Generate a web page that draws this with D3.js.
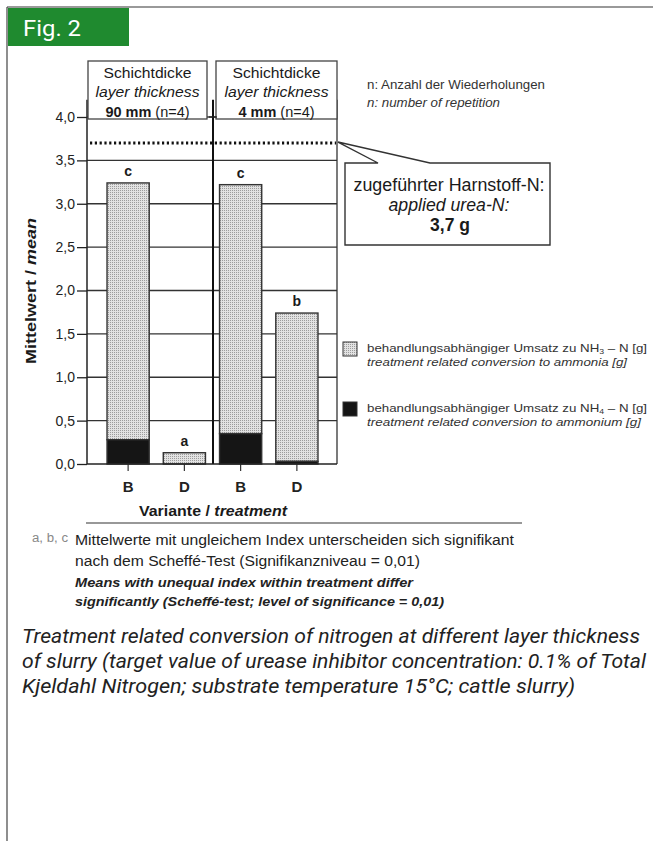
<!DOCTYPE html>
<html><head><meta charset="utf-8">
<script src="https://cdn.jsdelivr.net/npm/d3@7"></script>
<style>
html,body{margin:0;padding:0;background:#fff;}
svg{display:block;}
text{font-family:"Liberation Sans",Arial,sans-serif;fill:#1a1a1a;}
</style></head>
<body>
<svg id="c" width="653" height="841"></svg>
<script>
// ---- data ----
const categories = ["B", "D", "B", "D"];
const groupLabels = ["90 mm", "4 mm"];
const groupN = [4, 4];
const ammonium = [0.28, 0.0, 0.35, 0.03];          // NH4-N [g]
const ammonia = [2.96, 0.13, 2.87, 1.71];          // NH3-N [g] (stacked on top)
const sigLetters = ["c", "a", "c", "b"];
const appliedUreaN = 3.7;
const yTicks = [0, 0.5, 1.0, 1.5, 2.0, 2.5, 3.0, 3.5, 4.0];

const svg = d3.select("#c");
const fmt = v => d3.format(".1f")(v).replace(".", ",");

// pattern for stipple grey
const defs = svg.append("defs");
const pat = defs.append("pattern").attr("id", "stip").attr("width", 2).attr("height", 2)
  .attr("patternUnits", "userSpaceOnUse");
pat.append("rect").attr("width", 2).attr("height", 2).attr("fill", "#e2e2e2");
pat.append("rect").attr("width", 1).attr("height", 1).attr("fill", "#9c9c9c");

// frame
svg.append("line").attr("x1", 7).attr("x2", 653).attr("y1", 7).attr("y2", 7).attr("stroke", "#777").attr("stroke-width", 1.5);
svg.append("line").attr("x1", 7).attr("x2", 7).attr("y1", 7).attr("y2", 841).attr("stroke", "#444").attr("stroke-width", 1.2);
svg.append("rect").attr("x", 8).attr("y", 8).attr("width", 121).attr("height", 38).attr("fill", "#1f8a2f");
svg.append("text").attr("x", 23).attr("y", 36).text("Fig. 2")
  .style("fill", "#fff").style("font-family", "Roboto,'Open Sans',sans-serif").style("font-size", "22px")
  .attr("textLength", 58).attr("lengthAdjust", "spacingAndGlyphs");

// scales
const y = d3.scaleLinear().domain([0, 4]).range([464, 117]);
const x = d3.scaleBand().domain(d3.range(categories.length)).range([100, 325]).padding(0);
const bw = x.bandwidth() * 0.75;
const plotL = 87, plotR = 337, plotT = y(4.2), divX = 213;

// gridlines & y axis
const yAxis = d3.axisLeft(y).tickValues(yTicks).tickFormat(fmt).tickSize(10).tickPadding(2);
const gy = svg.append("g").attr("transform", `translate(${plotL},0)`).call(yAxis);
gy.select(".domain").remove();
gy.selectAll(".tick line").attr("stroke", "#222").attr("stroke-width", 1.3);
gy.selectAll(".tick text").style("font-size", "14px").style("fill", "#222");

svg.append("g").selectAll("line").data(yTicks.filter(t => t > 0)).join("line")
  .attr("x1", plotL).attr("x2", plotR).attr("y1", d => y(d)).attr("y2", d => y(d))
  .attr("stroke", "#333").attr("stroke-width", 1.3);

// bars
const bars = svg.append("g");
categories.forEach((c, i) => {
  const cx = x(i) + x.bandwidth() / 2;
  bars.append("rect").attr("x", cx - bw / 2).attr("width", bw)
    .attr("y", y(ammonium[i] + ammonia[i])).attr("height", y(ammonium[i]) - y(ammonium[i] + ammonia[i]))
    .attr("fill", "url(#stip)").attr("stroke", "#333").attr("stroke-width", 1.4);
  if (ammonium[i] > 0) {
    bars.append("rect").attr("x", cx - bw / 2).attr("width", bw)
      .attr("y", y(ammonium[i])).attr("height", y(0) - y(ammonium[i]))
      .attr("fill", "#151515").attr("stroke", "#333").attr("stroke-width", 1.4);
  }
  bars.append("text").attr("x", cx).attr("y", y(ammonium[i] + ammonia[i]) - 7)
    .attr("text-anchor", "middle").style("font-size", "14px").style("font-weight", "bold").text(sigLetters[i]);
});

// frame lines of plot
svg.append("line").attr("x1", plotL).attr("x2", plotL).attr("y1", plotT).attr("y2", y(0)).attr("stroke", "#222").attr("stroke-width", 1.5);
svg.append("line").attr("x1", plotR).attr("x2", plotR).attr("y1", plotT).attr("y2", y(0)).attr("stroke", "#333").attr("stroke-width", 1.3);
svg.append("line").attr("x1", divX).attr("x2", divX).attr("y1", plotT).attr("y2", y(0)).attr("stroke", "#111").attr("stroke-width", 2);

// x axis
const xAxis = d3.axisBottom(x).tickFormat(i => categories[i]).tickSize(7).tickPadding(10);
const gx = svg.append("g").attr("transform", `translate(0,${y(0)})`).call(xAxis);
gx.select(".domain").remove();
svg.append("line").attr("x1", plotL).attr("x2", plotR).attr("y1", y(0)).attr("y2", y(0)).attr("stroke", "#222").attr("stroke-width", 1.5);
gx.selectAll(".tick line").attr("stroke", "#333").attr("stroke-width", 1.2);
gx.selectAll(".tick text").style("font-size", "15px").style("font-weight", "bold").style("fill", "#222");

// applied urea dotted line
svg.append("line").attr("x1", plotL + 3).attr("x2", plotR - 1).attr("y1", y(appliedUreaN)).attr("y2", y(appliedUreaN))
  .attr("stroke", "#111").attr("stroke-width", 3).attr("stroke-dasharray", "2.2,2.6");

// header boxes
const hb = [[88, 207], [216, 337]];
hb.forEach((b, k) => {
  svg.append("rect").attr("x", b[0]).attr("y", 61).attr("width", b[1] - b[0]).attr("height", 58)
    .attr("fill", "#fff").attr("stroke", "#444").attr("stroke-width", 1.3);
  const cx = (b[0] + b[1]) / 2;
  svg.append("text").attr("x", cx).attr("y", 78).attr("text-anchor", "middle").style("font-size", "14px")
    .attr("textLength", 88).attr("lengthAdjust", "spacingAndGlyphs").text("Schichtdicke");
  svg.append("text").attr("x", cx).attr("y", 97).attr("text-anchor", "middle").style("font-size", "14px").style("font-style", "italic")
    .attr("textLength", 104).attr("lengthAdjust", "spacingAndGlyphs").text("layer thickness");
  const t = svg.append("text").attr("x", cx).attr("y", 117).attr("text-anchor", "middle").style("font-size", "14.5px");
  t.append("tspan").style("font-weight", "bold").text(groupLabels[k] + " ");
  t.append("tspan").text(`(n=${groupN[k]})`);
});
// small tick crossing divider at 4.0
svg.append("line").attr("x1", divX - 4).attr("x2", divX + 4).attr("y1", y(4)).attr("y2", y(4)).attr("stroke", "#222").attr("stroke-width", 1.2);

// axis titles
const yt = svg.append("text").attr("transform", `translate(36,291) rotate(-90)`).attr("text-anchor", "middle")
  .style("font-size", "15.5px").style("font-weight", "bold")
  .attr("textLength", 146).attr("lengthAdjust", "spacingAndGlyphs");
yt.append("tspan").text("Mittelwert / ");
yt.append("tspan").style("font-style", "italic").text("mean");
const xt = svg.append("text").attr("x", 213).attr("y", 516).attr("text-anchor", "middle").style("font-size", "15.5px").style("font-weight", "bold")
  .attr("textLength", 148).attr("lengthAdjust", "spacingAndGlyphs");
xt.append("tspan").text("Variante / ");
xt.append("tspan").style("font-style", "italic").text("treatment");

// n note
svg.append("text").attr("x", 367).attr("y", 89).style("font-size", "12.5px").style("fill", "#333")
  .attr("textLength", 178).attr("lengthAdjust", "spacingAndGlyphs").text("n: Anzahl der Wiederholungen");
svg.append("text").attr("x", 367).attr("y", 107).style("font-size", "12.5px").style("fill", "#333").style("font-style", "italic")
  .attr("textLength", 133).attr("lengthAdjust", "spacingAndGlyphs").text("n: number of repetition");

// callout
const tipX = 338, tipY = y(appliedUreaN) - 1;
svg.append("path")
  .attr("d", `M345,163 L378,163 L${tipX},${tipY} L430,163 L550,163 L550,245 L345,245 Z`)
  .attr("fill", "#fff").attr("stroke", "#333").attr("stroke-width", 1.4);
svg.append("text").attr("x", 449).attr("y", 191).attr("text-anchor", "middle").style("font-size", "17.5px")
  .attr("textLength", 191).attr("lengthAdjust", "spacingAndGlyphs").text("zugeführter Harnstoff-N:");
svg.append("text").attr("x", 449).attr("y", 211).attr("text-anchor", "middle").style("font-size", "17.5px").style("font-style", "italic")
  .attr("textLength", 121).attr("lengthAdjust", "spacingAndGlyphs").text("applied urea-N:");
svg.append("text").attr("x", 450).attr("y", 231).attr("text-anchor", "middle").style("font-size", "17.5px").style("font-weight", "bold")
  .text(fmt(appliedUreaN) + " g");

// legend
const leg = [
  {fill: "url(#stip)", y: 342, de: ["behandlungsabhängiger Umsatz zu NH", "3", " – N [g]"], en: "treatment related conversion to ammonia [g]", w1: 280, w2: 260},
  {fill: "#151515", y: 402, de: ["behandlungsabhängiger Umsatz zu NH", "4", " – N [g]"], en: "treatment related conversion to ammonium [g]", w1: 280, w2: 274}
];
leg.forEach(l => {
  svg.append("rect").attr("x", 343).attr("y", l.y).attr("width", 14).attr("height", 14).attr("fill", l.fill).attr("stroke", "#333").attr("stroke-width", 1);
  const t = svg.append("text").attr("x", 367).attr("y", l.y + 10).style("font-size", "11.5px").style("fill", "#333")
    .attr("textLength", l.w1).attr("lengthAdjust", "spacingAndGlyphs");
  t.append("tspan").text(l.de[0]);
  t.append("tspan").style("font-size", "7.5px").attr("dy", 2).text(l.de[1]);
  t.append("tspan").attr("dy", -2).text(l.de[2]);
  svg.append("text").attr("x", 367).attr("y", l.y + 24).style("font-size", "11.5px").style("fill", "#333").style("font-style", "italic")
    .attr("textLength", l.w2).attr("lengthAdjust", "spacingAndGlyphs").text(l.en);
});

// separator and footnote
svg.append("line").attr("x1", 86).attr("x2", 522).attr("y1", 523).attr("y2", 523).attr("stroke", "#333").attr("stroke-width", 1.2);
svg.append("text").attr("x", 32).attr("y", 542).style("font-size", "12px").style("fill", "#888")
  .attr("textLength", 36).attr("lengthAdjust", "spacingAndGlyphs").text("a, b, c");
const fn = [
  {t: "Mittelwerte mit ungleichem Index unterscheiden sich signifikant", y: 545, w: 439, s: ""},
  {t: "nach dem Scheffé-Test (Signifikanzniveau = 0,01)", y: 566, w: 345, s: ""},
  {t: "Means with unequal index within treatment differ", y: 587, w: 338, s: "bi"},
  {t: "significantly (Scheffé-test; level of significance = 0,01)", y: 606, w: 369, s: "bi"}
];
fn.forEach(f => {
  const t = svg.append("text").attr("x", 75).attr("y", f.y).style("font-size", f.s ? "13px" : "14px").style("fill", "#222")
    .attr("textLength", f.w).attr("lengthAdjust", "spacingAndGlyphs").text(f.t);
  if (f.s) t.style("font-weight", "bold").style("font-style", "italic");
});

// caption
const cap = [
  {t: "Treatment related conversion of nitrogen at different layer thickness", y: 643, w: 618},
  {t: "of slurry (target value of urease inhibitor concentration: 0.1% of Total", y: 668, w: 624},
  {t: "Kjeldahl Nitrogen; substrate temperature 15°C; cattle slurry)", y: 693, w: 553}
];
cap.forEach(c => {
  svg.append("text").attr("x", 22).attr("y", c.y)
    .style("font-family", "Roboto,'DejaVu Sans Condensed',sans-serif")
    .style("font-size", "20.5px").style("font-style", "italic").style("fill", "#222")
    .attr("textLength", c.w).attr("lengthAdjust", "spacingAndGlyphs").text(c.t);
});
</script>
</body></html>
